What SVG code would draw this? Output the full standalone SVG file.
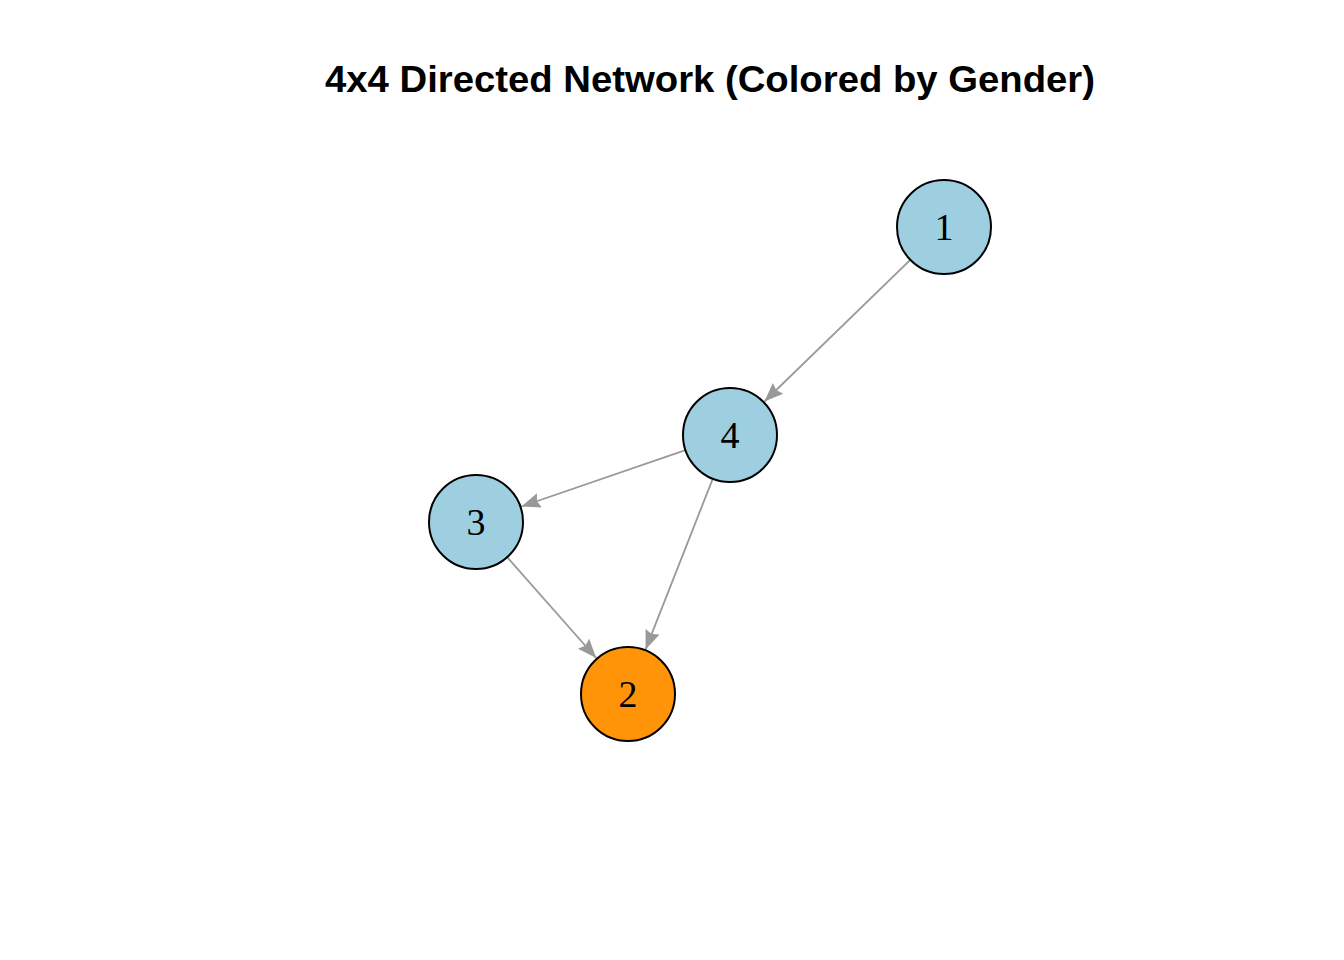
<svg xmlns="http://www.w3.org/2000/svg" width="1344" height="960" viewBox="0 0 1344 960">
<style>
.title{font-family:"Liberation Sans",Arial,sans-serif;font-weight:bold;font-size:36px;fill:#000}
.node circle{stroke:#000;stroke-width:2}
.blue{fill:#9ECFE0}
.orange{fill:#FF9408}
.lbl{font-family:"Liberation Serif","Times New Roman",serif;font-size:38px;fill:#000;text-anchor:middle}
.edge{stroke:#999;stroke-width:1.8;fill:none;marker-end:url(#ah)}
</style>
<defs>
<marker id="ah" markerUnits="userSpaceOnUse" markerWidth="22" markerHeight="18" viewBox="-20 -9 22 18" refX="0" refY="0" orient="auto">
<path d="M0,0 L-19,-7.5 L-16.5,0 L-19,7.5 Z" fill="#999"/>
</marker>
</defs>
<rect width="1344" height="960" fill="#fff"/>
<text class="title" x="325" y="92" textLength="770" lengthAdjust="spacingAndGlyphs">4x4 Directed Network (Colored by Gender)</text>
<g id="edges">
<line class="edge" x1="910.3" y1="259.8" x2="764.4" y2="401.5"/>
<line class="edge" x1="685.5" y1="450.2" x2="521.4" y2="506.5"/>
<line class="edge" x1="712.8" y1="478.7" x2="645.6" y2="649.4"/>
<line class="edge" x1="507.1" y1="557.2" x2="596.2" y2="658"/>
</g>
<g id="node1" class="node"><circle class="blue" cx="944" cy="227" r="47"/><text class="lbl" x="944" y="240">1</text></g>
<g id="node4" class="node"><circle class="blue" cx="730" cy="435" r="47"/><text class="lbl" x="730" y="448">4</text></g>
<g id="node3" class="node"><circle class="blue" cx="476" cy="522" r="47"/><text class="lbl" x="476" y="535">3</text></g>
<g id="node2" class="node"><circle class="orange" cx="628" cy="694" r="47"/><text class="lbl" x="628" y="707">2</text></g>
</svg>
